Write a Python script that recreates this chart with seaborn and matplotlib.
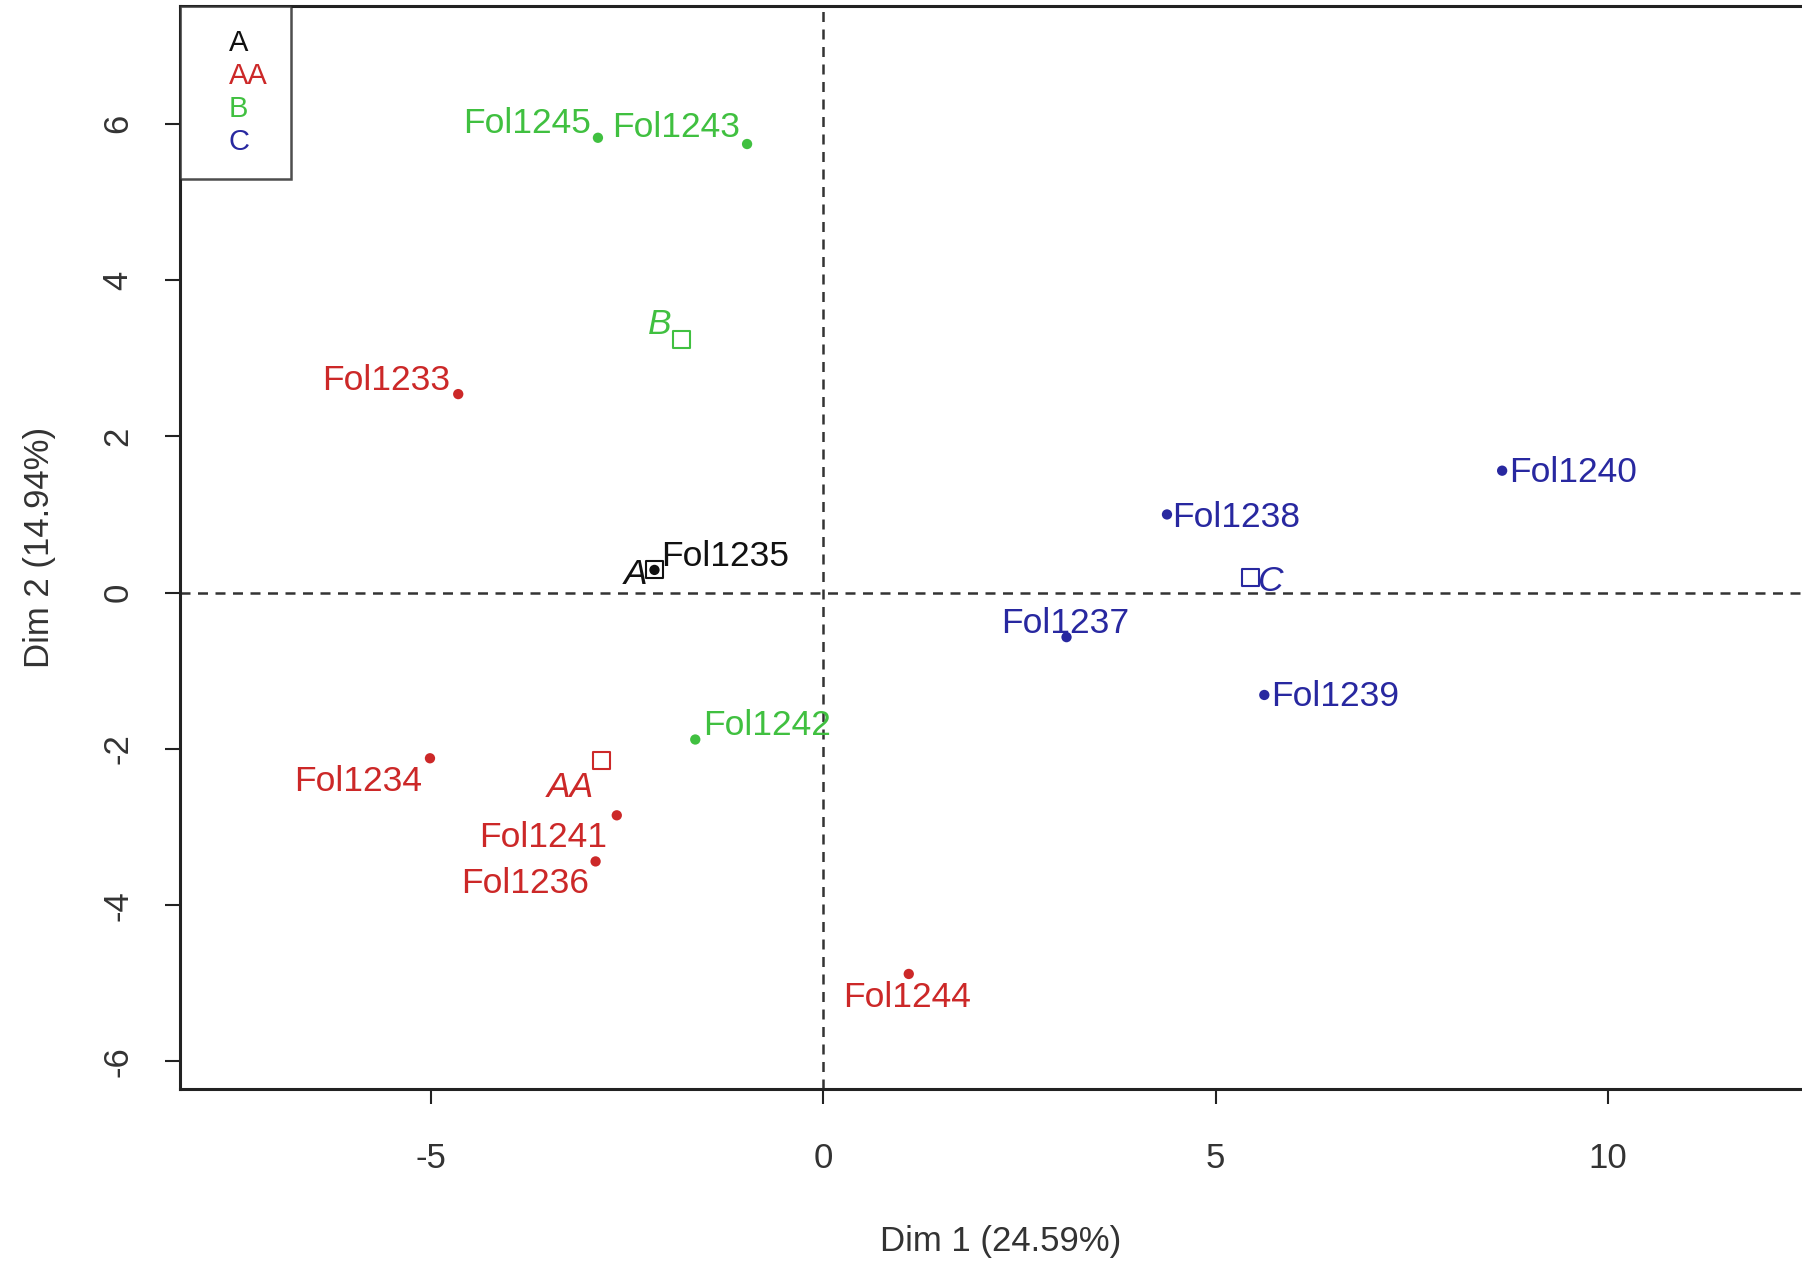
import matplotlib
matplotlib.use("Agg")
import matplotlib.pyplot as plt
import seaborn as sns
import pandas as pd

# ---- data ----
ind_names = ["Fol1245", "Fol1243", "Fol1233", "Fol1235", "Fol1240", "Fol1238",
             "Fol1237", "Fol1239", "Fol1242", "Fol1234", "Fol1241", "Fol1236", "Fol1244"]
ind_dim1 = [-2.87, -0.97, -4.65, -2.15, 8.65, 4.38, 3.10, 5.62, -1.63, -5.01, -2.63, -2.90, 1.09]
ind_dim2 = [5.82, 5.74, 2.54, 0.29, 1.56, 1.00, -0.57, -1.31, -1.88, -2.12, -2.85, -3.44, -4.88]
ind_group = ["B", "B", "AA", "A", "C", "C", "C", "C", "B", "AA", "AA", "AA", "AA"]

grp_names = ["A", "AA", "B", "C"]
grp_dim1 = [-2.15, -2.82, -1.81, 5.44]
grp_dim2 = [0.29, -2.15, 3.24, 0.19]

x_ticks = [-5, 0, 5, 10]
y_ticks = [-6, -4, -2, 0, 2, 4, 6]
xlabel = "Dim 1 (24.59%)"
ylabel = "Dim 2 (14.94%)"

# ---- style ----
palette = {"A": "#111111", "AA": "#CC2828", "B": "#40C040", "C": "#2828A0"}
# label offsets (points) and alignment
ind_offsets = {
    "Fol1245": (-5, 10, "right"), "Fol1243": (-5, 12, "right"), "Fol1233": (-6, 10, "right"),
    "Fol1235": (5, 10, "left"), "Fol1240": (5, -1, "left"), "Fol1238": (4, -2, "left"),
    "Fol1237": (-1, 10, "center"), "Fol1239": (5, -1, "left"), "Fol1242": (6, 10, "left"),
    "Fol1234": (-6, -17, "right"), "Fol1241": (-7, -16, "right"), "Fol1236": (-5, -16, "right"),
    "Fol1244": (-1, -17, "center"),
}
grp_offsets = {"A": (-5, -3, "right"), "AA": (-6, -19, "right"),
               "B": (-7, 11, "right"), "C": (5, -3, "left")}

sns.set_style("white")
plt.rcParams["font.family"] = ["Liberation Sans", "DejaVu Sans"]

fig = plt.figure(figsize=(18.02, 12.68), dpi=100)
ax = fig.add_axes([0.1001, 0.1413, 0.9099, 0.8542])

ind_df = pd.DataFrame({"dim1": ind_dim1, "dim2": ind_dim2, "group": ind_group, "name": ind_names})
grp_df = pd.DataFrame({"dim1": grp_dim1, "dim2": grp_dim2, "group": grp_names})

ax.axhline(0, color="#333333", ls=(0, (4, 3)), lw=1.8, zorder=1)
ax.axvline(0, color="#333333", ls=(0, (4, 3)), lw=1.8, zorder=1)

sns.scatterplot(data=ind_df, x="dim1", y="dim2", hue="group", palette=palette,
                s=55, edgecolor="none", legend=False, ax=ax, zorder=3)
sns.scatterplot(data=grp_df, x="dim1", y="dim2", hue="group", palette=palette,
                marker="s", s=150, facecolor="none", linewidth=1.5, legend=False, ax=ax, zorder=3)
# make squares hollow with colored edges
for coll in ax.collections[1:]:
    ec = coll.get_facecolors()
    if len(ec):
        coll.set_edgecolors(ec)
        coll.set_facecolors("none")

for n, x, y, g in zip(ind_names, ind_dim1, ind_dim2, ind_group):
    dx, dy, ha = ind_offsets[n]
    ax.annotate(n, (x, y), xytext=(dx, dy), textcoords="offset points",
                ha=ha, va="center", fontsize=25.5, color=palette[g], zorder=4)
for n, x, y in zip(grp_names, grp_dim1, grp_dim2):
    dx, dy, ha = grp_offsets[n]
    ax.annotate(n, (x, y), xytext=(dx, dy), textcoords="offset points",
                ha=ha, va="center", fontsize=25.5, color=palette[n], style="italic", zorder=4)

ax.set_xlim(-8.19, 12.7)
ax.set_ylim(-6.35, 7.51)
ax.set_xticks(x_ticks)
ax.set_yticks(y_ticks)
ax.set_xticklabels([str(t) for t in x_ticks])
ax.set_yticklabels([str(t) for t in y_ticks], rotation=90, va="center")
ax.tick_params(axis="both", direction="out", length=11, width=1.5, color="#222222",
               labelsize=25, labelcolor="#333333", left=True, bottom=True)
ax.tick_params(axis="x", pad=27)
ax.tick_params(axis="y", pad=22)
ax.set_xlabel(xlabel, fontsize=25, color="#333333", labelpad=36)
ax.set_ylabel(ylabel, fontsize=25, color="#333333", labelpad=33)
for sp in ax.spines.values():
    sp.set_color("#222222")
    sp.set_linewidth(2.2)

# legend box with colored text only
handles = [plt.Line2D([], [], linestyle="none", marker=None) for _ in grp_names]
leg = ax.legend(handles, grp_names, loc="upper left", fontsize=21, frameon=True,
                handlelength=0.6, handletextpad=0.25, borderpad=0.8, labelspacing=0.17,
                borderaxespad=0, fancybox=False, edgecolor="#222222")
leg.get_frame().set_linewidth(1.8)
for txt, g in zip(leg.get_texts(), grp_names):
    txt.set_color(palette[g])

fig.savefig("out.png", dpi=100, facecolor="white")
